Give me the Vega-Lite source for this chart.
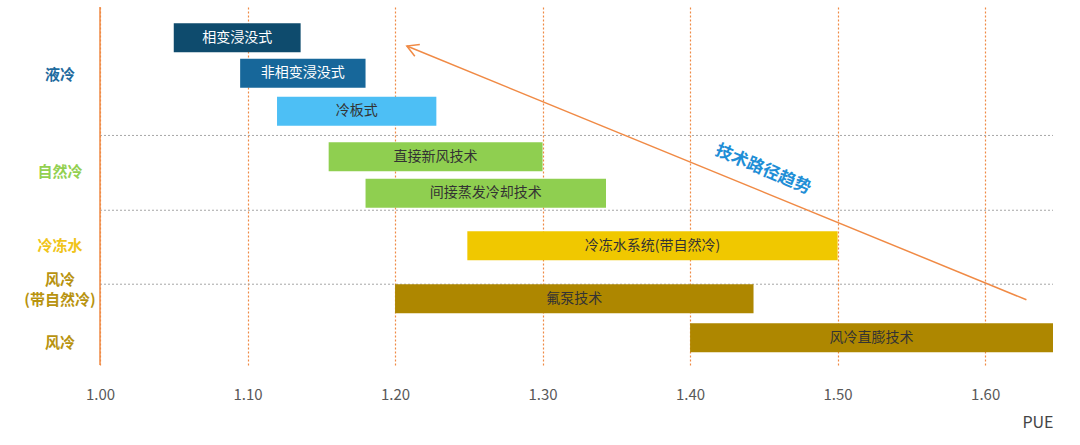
{
  "$schema": "https://vega.github.io/schema/vega-lite/v6.json",
  "width": 953,
  "height": 358,
  "autosize": "none",
  "padding": {"left": 100, "top": 7, "right": 27, "bottom": 80},
  "background": "white",
  "datasets": {
    "bars": [
      {"name": "相变浸没式", "lo": 1.05, "hi": 1.136, "row": 2.66},
      {"name": "非相变浸没式", "lo": 1.095, "hi": 1.18, "row": 6.34},
      {"name": "冷板式", "lo": 1.12, "hi": 1.228, "row": 10.26},
      {"name": "直接新风技术", "lo": 1.155, "hi": 1.3, "row": 14.98},
      {"name": "间接蒸发冷却技术", "lo": 1.18, "hi": 1.343, "row": 18.75},
      {"name": "冷冻水系统(带自然冷)", "lo": 1.249, "hi": 1.5, "row": 24.19},
      {"name": "氟泵技术", "lo": 1.2, "hi": 1.443, "row": 29.67},
      {"name": "风冷直膨技术", "lo": 1.4, "hi": 1.646, "row": 33.69}
    ],
    "groups": [
      {"label": "液冷", "group": "液冷", "row": 6.54},
      {"label": "自然冷", "group": "自然冷", "row": 16.59},
      {"label": "冷冻水", "group": "冷冻水", "row": 24.24},
      {"label": "风冷", "group": "风冷(带自然冷)", "row": 27.76},
      {"label": "(带自然冷)", "group": "风冷(带自然冷)", "row": 29.77},
      {"label": "风冷", "group": "风冷", "row": 34.29}
    ],
    "seps": [{"row": 12.77}, {"row": 20.51}, {"row": 28.16}],
    "trend": [
      {"pue": 1.628, "row": 29.77, "k": 0},
      {"pue": 1.208, "row": 3.52, "k": 1}
    ],
    "head": [
      {"pue": 1.2134, "row": 4.57, "k": 0},
      {"pue": 1.208, "row": 3.52, "k": 1},
      {"pue": 1.2168, "row": 3.36, "k": 2}
    ]
  },
  "resolve": {"scale": {"color": "independent"}},
  "layer": [
    {
      "data": {"name": "seps"},
      "mark": {"type": "rule", "color": "#a6a6a6", "strokeDash": [2, 2], "strokeWidth": 1},
      "encoding": {
        "y": {"field": "row", "type": "quantitative", "scale": {"domain": [0, 36], "reverse": true, "nice": false, "zero": false}, "axis": null},
        "x": {"datum": 1.0, "type": "quantitative"},
        "x2": {"datum": 1.646}
      }
    },
    {
      "data": {"name": "bars"},
      "mark": {"type": "bar", "height": 29},
      "encoding": {
        "x": {
          "field": "lo", "type": "quantitative",
          "scale": {"domain": [1.0, 1.646], "nice": false, "zero": false},
          "axis": {
            "values": [1.0, 1.1, 1.2, 1.3, 1.4, 1.5, 1.6],
            "format": ".2f",
            "title": "PUE",
            "titleAnchor": "end",
            "titleFontWeight": "normal",
            "titleFontSize": 16,
            "titleColor": "#444444",
            "titlePadding": 12,
            "labelFontSize": 15,
            "labelColor": "#595959",
            "labelPadding": 22,
            "labelFlush": false,
            "ticks": false,
            "domain": false,
            "grid": true,
            "gridColor": "#ef8a45",
            "gridDash": [2, 2],
            "gridWidth": 1.2
          }
        },
        "x2": {"field": "hi"},
        "y": {"field": "row", "type": "quantitative"},
        "color": {
          "field": "name", "type": "nominal", "legend": null,
          "scale": {
            "domain": ["相变浸没式", "非相变浸没式", "冷板式", "直接新风技术", "间接蒸发冷却技术", "冷冻水系统(带自然冷)", "氟泵技术", "风冷直膨技术"],
            "range": ["#0e4b6d", "#17679a", "#4dbff5", "#8fcf50", "#8fcf50", "#f0c800", "#ae8700", "#ae8700"]
          }
        }
      }
    },
    {
      "data": {"name": "bars"},
      "transform": [{"calculate": "(datum.lo + datum.hi) / 2", "as": "mid"}],
      "mark": {"type": "text", "fontSize": 14, "font": "Noto Sans CJK SC"},
      "encoding": {
        "x": {"field": "mid", "type": "quantitative"},
        "y": {"field": "row", "type": "quantitative"},
        "text": {"field": "name"},
        "color": {"condition": {"test": "datum.lo < 1.1", "value": "white"}, "value": "#333333"}
      }
    },
    {
      "data": {"name": "groups"},
      "mark": {"type": "text", "fontSize": 15, "fontWeight": "bold", "font": "Noto Sans CJK SC"},
      "encoding": {
        "x": {"datum": 0.9729, "type": "quantitative"},
        "y": {"field": "row", "type": "quantitative"},
        "text": {"field": "label"},
        "color": {
          "field": "group", "type": "nominal", "legend": null,
          "scale": {
            "domain": ["液冷", "自然冷", "冷冻水", "风冷(带自然冷)", "风冷"],
            "range": ["#1f6b9e", "#92d050", "#f0c419", "#b8930f", "#b8930f"]
          }
        }
      }
    },
    {
      "data": {"values": [{}]},
      "mark": {"type": "rule", "color": "#ef8a45", "strokeWidth": 1.5},
      "encoding": {
        "x": {"datum": 1.0, "type": "quantitative"}
      }
    },
    {
      "data": {"name": "trend"},
      "mark": {"type": "line", "color": "#f08a45", "strokeWidth": 1.5},
      "encoding": {
        "x": {"field": "pue", "type": "quantitative"},
        "y": {"field": "row", "type": "quantitative"},
        "order": {"field": "k"}
      }
    },
    {
      "data": {"name": "head"},
      "mark": {"type": "line", "color": "#f08a45", "strokeWidth": 1.5},
      "encoding": {
        "x": {"field": "pue", "type": "quantitative"},
        "y": {"field": "row", "type": "quantitative"},
        "order": {"field": "k"}
      }
    },
    {
      "data": {"values": [{"t": "技术路径趋势", "pue": 1.4495, "row": 16.3}]},
      "mark": {"type": "text", "fontSize": 17, "fontWeight": "bold", "font": "Noto Sans CJK SC", "color": "#1e8ed6", "angle": 23},
      "encoding": {
        "x": {"field": "pue", "type": "quantitative"},
        "y": {"field": "row", "type": "quantitative"},
        "text": {"field": "t"}
      }
    }
  ],
  "config": {
    "font": "Noto Sans CJK SC",
    "view": {"stroke": null}
  }
}
